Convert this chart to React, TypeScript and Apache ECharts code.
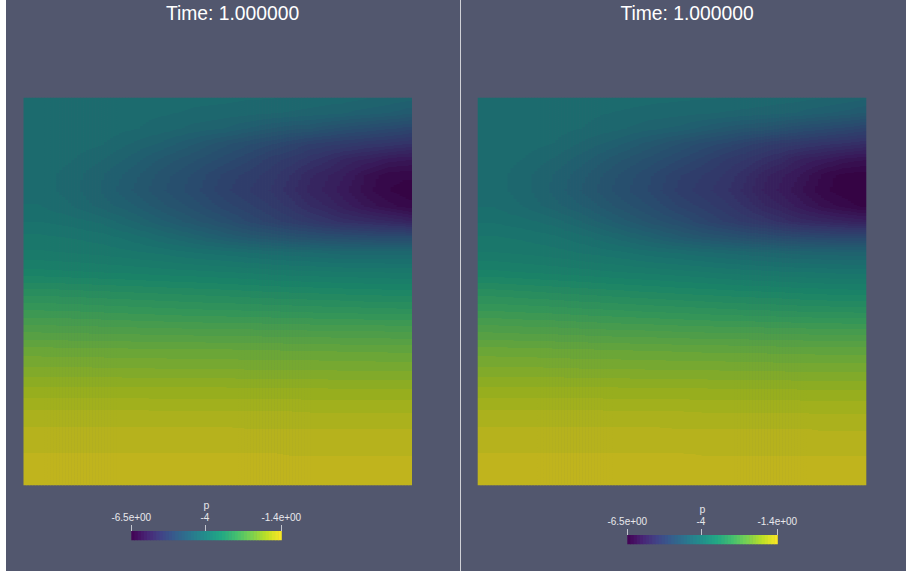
import React, { useEffect, useRef } from "react";
import * as echarts from "echarts";

const titleText = "Time: 1.000000";
const barName = "p";
const barTicks = [-6.5, -4, -1.4];
const barTickLabels = ["-6.5e+00", "-4", "-1.4e+00"];
const barRange = [-6.5, -1.4];

// viridis, every 0.1 of the range
const viridis = ["#440154", "#482475", "#414487", "#355f8d", "#2a788e", "#21918c", "#22a884", "#44bf70", "#7ad151", "#bddf26", "#fde725"];
const surfaceShade = 0.78;
const colorLevels = 48;

// horizontal positions (0..1) of the sampled columns
const columnsU = [0.04, 0.12, 0.2, 0.28, 0.36, 0.44, 0.52, 0.58, 0.64, 0.69, 0.74, 0.78, 0.82, 0.86, 0.89, 0.92, 0.945, 0.965, 0.98, 0.995];
// vertical positions (0 top .. 1 bottom) of the sampled rows
const rowsV = [0, 0.04, 0.08, 0.12, 0.16, 0.2, 0.24, 0.28, 0.32, 0.36, 0.4, 0.45, 0.5, 0.55, 0.6, 0.65, 0.7, 0.75, 0.8, 0.85, 0.92, 1];

const leftP = [
  [-4.1, -4.1, -4.1, -4.1, -4.1, -4.13, -4.13, -4.15, -4.15, -4.18, -4.18, -4.21, -4.21, -4.23, -4.26, -4.26, -4.28, -4.31, -4.31, -4.33],
  [-4.1, -4.1, -4.1, -4.13, -4.15, -4.18, -4.21, -4.23, -4.26, -4.28, -4.31, -4.33, -4.36, -4.41, -4.43, -4.46, -4.49, -4.51, -4.54, -4.56],
  [-4.1, -4.1, -4.1, -4.15, -4.21, -4.31, -4.38, -4.49, -4.59, -4.66, -4.69, -4.77, -4.84, -4.89, -4.92, -4.97, -5.0, -5.02, -5.05, -5.07],
  [-4.1, -4.1, -4.15, -4.28, -4.41, -4.59, -4.77, -4.89, -5.0, -5.12, -5.23, -5.28, -5.33, -5.38, -5.43, -5.45, -5.48, -5.51, -5.53, -5.56],
  [-4.1, -4.15, -4.26, -4.42, -4.62, -4.78, -4.96, -5.1, -5.28, -5.37, -5.51, -5.61, -5.76, -5.84, -5.89, -5.96, -6.02, -6.04, -6.05, -6.07],
  [-4.1, -4.21, -4.36, -4.54, -4.75, -4.93, -5.15, -5.27, -5.39, -5.55, -5.74, -5.84, -5.94, -6.09, -6.22, -6.3, -6.35, -6.36, -6.37, -6.37],
  [-4.1, -4.21, -4.38, -4.59, -4.79, -4.97, -5.2, -5.33, -5.45, -5.61, -5.8, -5.89, -6.02, -6.16, -6.26, -6.34, -6.4, -6.42, -6.44, -6.45],
  [-4.05, -4.15, -4.31, -4.46, -4.67, -4.85, -5.07, -5.2, -5.34, -5.48, -5.66, -5.76, -5.89, -6.02, -6.12, -6.2, -6.25, -6.3, -6.33, -6.36],
  [-3.95, -4.0, -4.08, -4.26, -4.46, -4.66, -4.84, -5.02, -5.17, -5.28, -5.38, -5.48, -5.58, -5.63, -5.66, -5.71, -5.74, -5.77, -5.8, -5.85],
  [-3.82, -3.85, -3.9, -4.0, -4.15, -4.31, -4.49, -4.61, -4.69, -4.77, -4.82, -4.87, -4.89, -4.92, -4.94, -4.97, -4.97, -4.97, -4.97, -4.97],
  [-3.72, -3.74, -3.77, -3.82, -3.87, -3.95, -4.0, -4.05, -4.1, -4.13, -4.15, -4.18, -4.21, -4.21, -4.21, -4.21, -4.21, -4.21, -4.21, -4.21],
  [-3.49, -3.51, -3.53, -3.55, -3.58, -3.6, -3.63, -3.65, -3.68, -3.7, -3.71, -3.72, -3.73, -3.73, -3.74, -3.74, -3.75, -3.75, -3.75, -3.75],
  [-3.16, -3.18, -3.2, -3.22, -3.24, -3.26, -3.28, -3.3, -3.32, -3.33, -3.34, -3.35, -3.36, -3.37, -3.38, -3.38, -3.39, -3.39, -3.39, -3.39],
  [-2.88, -2.89, -2.91, -2.93, -2.95, -2.97, -2.98, -2.99, -3.0, -3.01, -3.02, -3.03, -3.03, -3.04, -3.05, -3.05, -3.05, -3.06, -3.06, -3.06],
  [-2.6, -2.61, -2.62, -2.63, -2.64, -2.65, -2.66, -2.66, -2.67, -2.67, -2.68, -2.68, -2.69, -2.69, -2.69, -2.69, -2.7, -2.7, -2.7, -2.7],
  [-2.32, -2.33, -2.33, -2.34, -2.34, -2.35, -2.35, -2.36, -2.36, -2.37, -2.37, -2.37, -2.38, -2.38, -2.38, -2.38, -2.39, -2.39, -2.39, -2.39],
  [-2.12, -2.12, -2.13, -2.13, -2.14, -2.14, -2.14, -2.15, -2.15, -2.15, -2.15, -2.16, -2.16, -2.16, -2.16, -2.17, -2.17, -2.17, -2.17, -2.17],
  [-1.91, -1.91, -1.91, -1.92, -1.92, -1.92, -1.92, -1.93, -1.93, -1.93, -1.93, -1.93, -1.94, -1.94, -1.94, -1.94, -1.94, -1.94, -1.94, -1.94],
  [-1.73, -1.73, -1.73, -1.73, -1.74, -1.74, -1.74, -1.74, -1.74, -1.74, -1.75, -1.75, -1.75, -1.75, -1.75, -1.75, -1.75, -1.75, -1.75, -1.75],
  [-1.61, -1.61, -1.61, -1.61, -1.61, -1.61, -1.61, -1.62, -1.62, -1.62, -1.62, -1.62, -1.62, -1.62, -1.62, -1.62, -1.62, -1.62, -1.62, -1.62],
  [-1.5, -1.5, -1.5, -1.5, -1.5, -1.5, -1.5, -1.5, -1.5, -1.51, -1.51, -1.51, -1.51, -1.51, -1.51, -1.51, -1.51, -1.51, -1.51, -1.51],
  [-1.41, -1.41, -1.41, -1.41, -1.41, -1.41, -1.41, -1.41, -1.41, -1.41, -1.41, -1.41, -1.41, -1.41, -1.41, -1.41, -1.41, -1.41, -1.41, -1.41],
];

const rightP = [
  [-4.1, -4.1, -4.1, -4.1, -4.11, -4.13, -4.14, -4.15, -4.16, -4.18, -4.19, -4.21, -4.22, -4.24, -4.26, -4.27, -4.29, -4.31, -4.32, -4.34],
  [-4.1, -4.1, -4.11, -4.14, -4.17, -4.2, -4.23, -4.25, -4.28, -4.3, -4.33, -4.35, -4.38, -4.43, -4.46, -4.49, -4.52, -4.54, -4.57, -4.59],
  [-4.1, -4.1, -4.12, -4.17, -4.24, -4.34, -4.41, -4.52, -4.62, -4.7, -4.73, -4.81, -4.88, -4.94, -4.97, -5.02, -5.05, -5.08, -5.11, -5.13],
  [-4.1, -4.11, -4.17, -4.31, -4.45, -4.63, -4.81, -4.94, -5.05, -5.17, -5.29, -5.35, -5.4, -5.46, -5.51, -5.54, -5.57, -5.6, -5.62, -5.65],
  [-4.1, -4.17, -4.29, -4.46, -4.66, -4.83, -5.01, -5.16, -5.34, -5.44, -5.58, -5.69, -5.85, -5.93, -5.98, -6.05, -6.11, -6.14, -6.15, -6.17],
  [-4.1, -4.23, -4.39, -4.58, -4.8, -4.98, -5.21, -5.33, -5.46, -5.62, -5.83, -5.94, -6.04, -6.19, -6.31, -6.39, -6.43, -6.44, -6.45, -6.45],
  [-4.1, -4.23, -4.41, -4.63, -4.84, -5.02, -5.26, -5.39, -5.52, -5.69, -5.89, -5.99, -6.12, -6.27, -6.36, -6.42, -6.46, -6.48, -6.49, -6.5],
  [-4.06, -4.17, -4.34, -4.5, -4.72, -4.9, -5.13, -5.26, -5.41, -5.56, -5.75, -5.85, -5.98, -6.11, -6.21, -6.28, -6.33, -6.37, -6.4, -6.42],
  [-3.96, -4.02, -4.11, -4.3, -4.51, -4.72, -4.9, -5.08, -5.24, -5.36, -5.46, -5.57, -5.67, -5.72, -5.76, -5.8, -5.83, -5.86, -5.88, -5.9],
  [-3.83, -3.87, -3.93, -4.04, -4.2, -4.37, -4.56, -4.68, -4.77, -4.85, -4.91, -4.96, -4.99, -5.02, -5.04, -5.06, -5.07, -5.07, -5.07, -5.07],
  [-3.73, -3.76, -3.8, -3.86, -3.92, -4.01, -4.07, -4.13, -4.18, -4.22, -4.25, -4.28, -4.31, -4.32, -4.33, -4.33, -4.34, -4.34, -4.34, -4.34],
  [-3.5, -3.53, -3.56, -3.59, -3.63, -3.66, -3.7, -3.73, -3.77, -3.79, -3.81, -3.83, -3.84, -3.85, -3.86, -3.87, -3.88, -3.88, -3.88, -3.88],
  [-3.17, -3.2, -3.23, -3.26, -3.29, -3.32, -3.35, -3.37, -3.39, -3.41, -3.42, -3.43, -3.45, -3.46, -3.47, -3.48, -3.48, -3.49, -3.49, -3.49],
  [-2.89, -2.91, -2.93, -2.96, -2.98, -3.01, -3.03, -3.05, -3.07, -3.08, -3.09, -3.1, -3.11, -3.12, -3.12, -3.13, -3.13, -3.13, -3.14, -3.14],
  [-2.6, -2.62, -2.63, -2.65, -2.67, -2.68, -2.7, -2.71, -2.72, -2.72, -2.73, -2.74, -2.74, -2.75, -2.75, -2.75, -2.76, -2.76, -2.76, -2.76],
  [-2.32, -2.33, -2.34, -2.35, -2.36, -2.37, -2.38, -2.39, -2.39, -2.4, -2.4, -2.41, -2.41, -2.41, -2.42, -2.42, -2.42, -2.42, -2.42, -2.42],
  [-2.12, -2.12, -2.13, -2.14, -2.14, -2.15, -2.15, -2.16, -2.16, -2.17, -2.17, -2.17, -2.18, -2.18, -2.18, -2.18, -2.18, -2.18, -2.18, -2.18],
  [-1.91, -1.91, -1.91, -1.92, -1.92, -1.93, -1.93, -1.93, -1.94, -1.94, -1.94, -1.94, -1.94, -1.95, -1.95, -1.95, -1.95, -1.95, -1.95, -1.95],
  [-1.73, -1.73, -1.73, -1.73, -1.74, -1.74, -1.74, -1.75, -1.75, -1.75, -1.75, -1.75, -1.75, -1.76, -1.76, -1.76, -1.76, -1.76, -1.76, -1.76],
  [-1.61, -1.61, -1.61, -1.61, -1.61, -1.61, -1.62, -1.62, -1.62, -1.62, -1.62, -1.62, -1.62, -1.62, -1.63, -1.63, -1.63, -1.63, -1.63, -1.63],
  [-1.5, -1.5, -1.5, -1.5, -1.5, -1.5, -1.5, -1.51, -1.51, -1.51, -1.51, -1.51, -1.51, -1.51, -1.51, -1.51, -1.51, -1.51, -1.51, -1.51],
  [-1.41, -1.41, -1.41, -1.41, -1.41, -1.41, -1.41, -1.41, -1.41, -1.41, -1.41, -1.41, -1.41, -1.41, -1.41, -1.41, -1.41, -1.41, -1.41, -1.41],
];

const hexToRgb = (h: string) => [parseInt(h.slice(1, 3), 16), parseInt(h.slice(3, 5), 16), parseInt(h.slice(5, 7), 16)];

const toT = (p: number) => Math.min(1, Math.max(0, (p - barRange[0]) / (barRange[1] - barRange[0])));
const levelOf = (t: number) => Math.min(colorLevels - 1, Math.floor(t * colorLevels));

function levelColor(level: number, shade: number) {
  const f = ((level + 0.5) / colorLevels) * (viridis.length - 1);
  const i = Math.min(viridis.length - 2, Math.floor(f));
  const a = hexToRgb(viridis[i]);
  const b = hexToRgb(viridis[i + 1]);
  const m = a.map((c, k) => Math.round((c + (b[k] - c) * (f - i)) * shade));
  return `rgb(${m[0]},${m[1]},${m[2]})`;
}

// the sampled column profile at position u, shaded between the two nearest columns
function profileAt(values: number[][], u: number) {
  let j = 0;
  while (j < columnsU.length - 2 && u > columnsU[j + 1]) j++;
  const f = Math.min(1, Math.max(0, (u - columnsU[j]) / (columnsU[j + 1] - columnsU[j])));
  return values.map((row) => row[j] + (row[j + 1] - row[j]) * f);
}

// gradient stops with one flat band per colour level
function bandStops(ts: number[], shade: number, positions: number[]) {
  let level = levelOf(ts[0]);
  const stops = [{ offset: 0, color: levelColor(level, shade) }];
  for (let r = 0; r < ts.length - 1; r++) {
    const next = levelOf(ts[r + 1]);
    const dir = next > level ? 1 : -1;
    while (level !== next) {
      const boundary = (dir > 0 ? level + 1 : level) / colorLevels;
      const f = Math.min(1, Math.max(0, (boundary - ts[r]) / (ts[r + 1] - ts[r])));
      const off = positions[r] + (positions[r + 1] - positions[r]) * f;
      stops.push({ offset: off, color: levelColor(level, shade) });
      level += dir;
      stops.push({ offset: off, color: levelColor(level, shade) });
    }
  }
  stops.push({ offset: 1, color: levelColor(level, shade) });
  return stops;
}

const stripCount = 130;
const strips = Array.from({ length: stripCount }, (_, i) => [(i + 0.5) / stripCount, 0.5, i / stripCount, (i + 1) / stripCount]);
const barCells = Array.from({ length: colorLevels }, (_, i) => {
  const span = barRange[1] - barRange[0];
  return [barRange[0] + (span * i) / colorLevels, 0, barRange[0] + (span * (i + 1)) / colorLevels, 1, i];
});

function fieldSeries(gridIndex: number, name: string, values: number[][]) {
  return {
    type: "custom",
    name,
    xAxisIndex: gridIndex,
    yAxisIndex: gridIndex,
    coordinateSystem: "cartesian2d",
    silent: true,
    clip: true,
    encode: { x: 0, y: 1 },
    data: strips,
    renderItem: (_: any, api: any) => {
      const a = api.coord([api.value(2), 0]);
      const b = api.coord([api.value(3), 1]);
      const ts = profileAt(values, api.value(0)).map(toT);
      return {
        type: "rect",
        shape: { x: a[0], y: a[1], width: b[0] - a[0] + 0.6, height: b[1] - a[1] },
        style: { fill: new echarts.graphic.LinearGradient(0, 0, 0, 1, bandStops(ts, surfaceShade, rowsV)) },
      };
    },
  };
}

function barSeries(gridIndex: number) {
  return {
    type: "custom",
    name: barName,
    xAxisIndex: gridIndex,
    yAxisIndex: gridIndex,
    coordinateSystem: "cartesian2d",
    silent: true,
    clip: true,
    encode: { x: [0, 2], y: [1, 3] },
    data: barCells,
    renderItem: (_: any, api: any) => {
      const a = api.coord([api.value(0), api.value(3)]);
      const b = api.coord([api.value(2), api.value(1)]);
      return {
        type: "rect",
        shape: { x: a[0], y: a[1], width: b[0] - a[0] + 0.5, height: b[1] - a[1] },
        style: { fill: levelColor(api.value(4), 1) },
      };
    },
  };
}

const hiddenAxis = (gridIndex: number, min: number, max: number, inverse: boolean) => ({
  type: "value",
  gridIndex,
  min,
  max,
  inverse,
  show: false,
});

const barAxis = (gridIndex: number) => ({
  type: "value",
  gridIndex,
  min: barRange[0],
  max: barRange[1],
  position: "top",
  name: barName,
  nameLocation: "middle",
  nameGap: 21,
  nameTextStyle: { color: "#e4e4e8", fontSize: 10.5, fontFamily: "Liberation Sans" },
  splitLine: { show: false },
  axisLine: { show: false, onZero: false },
  axisTick: { show: true, inside: false, customValues: barTicks, length: 6, lineStyle: { color: "#c4c6cf", width: 1 } },
  axisLabel: {
    show: true,
    customValues: barTicks,
    margin: 9,
    color: "#e8e8ec",
    fontSize: 10,
    fontFamily: "Liberation Sans",
    hideOverlap: false,
    formatter: (v: number) => barTickLabels[barTicks.indexOf(v)],
  },
});

const titleStyle = { color: "#ffffff", fontSize: 19.3, fontWeight: "normal", fontFamily: "Liberation Sans" };

export default function App() {
  const ref = useRef<HTMLDivElement>(null);
  useEffect(() => {
    document.body.style.margin = "0";
    const chart = echarts.init(ref.current!, null, { renderer: "svg" });
    chart.setOption({
      animation: false,
      backgroundColor: "#ffffff",
      graphic: [
        { type: "rect", z: -10, silent: true, shape: { x: 6, y: 0, width: 900, height: 571 }, style: { fill: "#52576e" } },
        { type: "line", z: -9, silent: true, shape: { x1: 460.5, y1: 0, x2: 460.5, y2: 571 }, style: { stroke: "#d0d1d6", lineWidth: 1 } },
      ],
      title: [
        { text: titleText, left: 227.5, top: -1.5, textAlign: "center", textStyle: titleStyle },
        { text: titleText, left: 682, top: -1.5, textAlign: "center", textStyle: titleStyle },
      ],
      grid: [
        { left: 23.5, top: 97.5, width: 388, height: 388 },
        { left: 477.7, top: 97.5, width: 388, height: 388 },
        { left: 131.3, top: 531, width: 150, height: 9.5 },
        { left: 627.3, top: 535, width: 150, height: 9.5 },
      ],
      xAxis: [hiddenAxis(0, 0, 1, false), hiddenAxis(1, 0, 1, false), barAxis(2), barAxis(3)],
      yAxis: [hiddenAxis(0, 0, 1, true), hiddenAxis(1, 0, 1, true), hiddenAxis(2, 0, 1, false), hiddenAxis(3, 0, 1, false)],
      series: [fieldSeries(0, "left field", leftP), fieldSeries(1, "right field", rightP), barSeries(2), barSeries(3)],
    });
    return () => chart.dispose();
  }, []);
  return <div ref={ref} style={{ width: 906, height: 574 }} />;
}
